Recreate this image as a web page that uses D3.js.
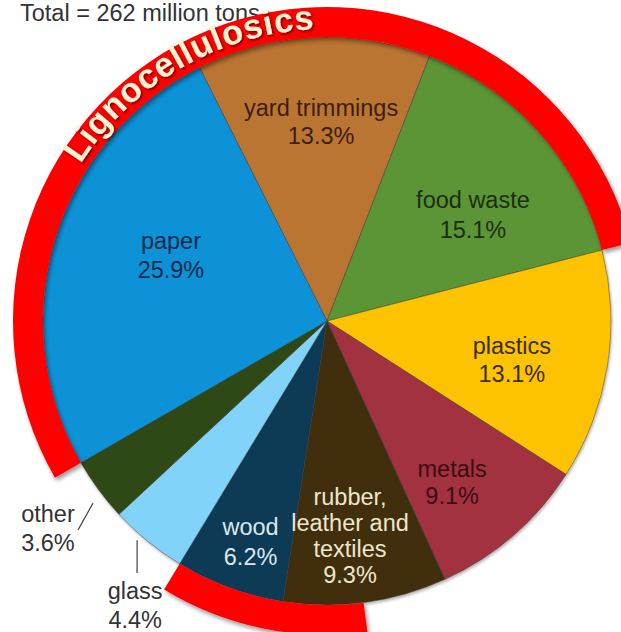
<!DOCTYPE html>
<html><head><meta charset="utf-8">
<script src="https://cdn.jsdelivr.net/npm/d3@7"></script>
<style>html,body{margin:0;padding:0;background:#fff;} svg{display:block;}</style>
</head><body>
<script>
// ---- data ----
const categories = ["yard trimmings","food waste","plastics","metals","rubber, leather and textiles","wood","glass","other","paper"];
const values = [13.3, 15.1, 13.1, 9.1, 9.3, 6.2, 4.4, 3.6, 25.9];
const labelLines = [["yard trimmings","13.3%"],["food waste","15.1%"],["plastics","13.1%"],["metals","9.1%"],["rubber,","leather and","textiles","9.3%"],["wood","6.2%"],["glass","4.4%"],["other","3.6%"],["paper","25.9%"]];
const titleText = "Total = 262 million tons";
const bandText = "Lignocellulosics";

// ---- styles / layout ----
const colors = ["#bb7431","#5c9535","#fdc300","#a33340","#3f2e0c","#0b3a57","#82d3f9","#2d4818","#0a92d8"];
const textColors = ["#3b1e0c","#1b2e10","#3b2c10","#3a0c14","#efe6cc","#dce8ee","#333333","#333333","#0a2a4a"];
// label block centers in polar coords (radius px, angle deg clockwise from 12 o'clock)
const labelPolar = [[198.6,-1.7],[180.4,54.0],[189,102.05],[204.6,142.3],[216.7,173.9],[234,199.06],[343,214.0],[348,233.3],[169.4,-67.1]];
const lineHeights = [28,29.5,28,27,26,29.5,29.5,29,29];
const leaders = {6:[[290,220.9],[315.6,217.0]], 7:[[296.5,232.1],[325,230.0]]};

const W = 621, H = 632, cx = 327, cy = 321, R = 284;
const startDeg = -26.7;
const bandInner = 284, bandOuter = 314;
const bottomBandStartDeg = 172.6;
const rad = d => d * Math.PI / 180;
const polar = (r, a) => [cx + r * Math.sin(rad(a)), cy - r * Math.cos(rad(a))];
const FONT = "'Liberation Sans', Arial, sans-serif";

const svg = d3.select("body").append("svg").attr("width", W).attr("height", H);
const defs = svg.append("defs");
const f1 = defs.append("filter").attr("id","sh").attr("x","-20%").attr("y","-20%").attr("width","140%").attr("height","140%");
f1.append("feDropShadow").attr("dx",2).attr("dy",3).attr("stdDeviation",2).attr("flood-color","#000").attr("flood-opacity",0.4);
const f2 = defs.append("filter").attr("id","tsh").attr("x","-20%").attr("y","-20%").attr("width","140%").attr("height","140%");
f2.append("feDropShadow").attr("dx",1.5).attr("dy",1.5).attr("stdDeviation",1).attr("flood-color","#000").attr("flood-opacity",0.55);
const f3 = defs.append("filter").attr("id","psh").attr("x","-20%").attr("y","-20%").attr("width","140%").attr("height","140%");
f3.append("feDropShadow").attr("dx",1).attr("dy",2).attr("stdDeviation",1.5).attr("flood-color","#000").attr("flood-opacity",0.3);

// title
svg.append("text").attr("x", 20).attr("y", 21)
  .attr("font-family", FONT).attr("font-size", 23.5)
  .attr("fill", "#333").text(titleText);

// pie
const pie = d3.pie().sort(null).value(d => d)
  .startAngle(rad(startDeg)).endAngle(rad(startDeg) + 2 * Math.PI);
const arcs = pie(values);
const arcGen = d3.arc().innerRadius(0).outerRadius(R);
const g = svg.append("g").attr("transform", `translate(${cx},${cy})`);
g.append("g").attr("filter","url(#psh)").selectAll("path").data(arcs).join("path")
  .attr("d", arcGen).attr("fill", (d,i) => colors[i])
  .attr("stroke", "#3a3a3a").attr("stroke-opacity", 0.6).attr("stroke-width", 0.8);

// red bands
const band = d3.arc().innerRadius(bandInner).outerRadius(bandOuter);
const paperArc = arcs[8], foodArc = arcs[1], woodArc = arcs[5];
const topBand = {startAngle: paperArc.startAngle - 2 * Math.PI, endAngle: foodArc.endAngle};
const botBand = {startAngle: rad(bottomBandStartDeg), endAngle: woodArc.endAngle};
g.append("g").attr("filter","url(#sh)").selectAll("path").data([topBand, botBand]).join("path")
  .attr("d", band).attr("fill", "#ff0000");

// curved band text
const tr = 292, a0 = rad(-62), a1 = rad(2);
const pathD = `M ${tr*Math.sin(a0)} ${-tr*Math.cos(a0)} A ${tr} ${tr} 0 0 1 ${tr*Math.sin(a1)} ${-tr*Math.cos(a1)}`;
defs.append("path").attr("id","bandPath").attr("d", pathD);
g.append("text").attr("filter","url(#tsh)")
  .attr("font-family", FONT).attr("font-weight","bold")
  .attr("font-size", 34.5).attr("fill", "#fdf3d3")
  .append("textPath").attr("href","#bandPath").attr("startOffset","50%")
  .attr("text-anchor","middle").attr("textLength", 280).attr("lengthAdjust","spacing")
  .text(bandText);

// labels
arcs.forEach((d, i) => {
  const [x, y] = polar(labelPolar[i][0], labelPolar[i][1]);
  const lines = labelLines[i], lh = lineHeights[i];
  const b1 = y + 8 - (lines.length - 1) * lh / 2;
  const t = svg.append("text").attr("text-anchor","middle")
    .attr("font-family", FONT).attr("font-size", 23.5)
    .attr("fill", textColors[i]);
  lines.forEach((s, k) => t.append("tspan").attr("x", x).attr("y", b1 + k * lh).text(s));
  if (leaders[i]) {
    const p = leaders[i].map(q => polar(q[0], q[1]));
    svg.append("line").attr("x1", p[0][0]).attr("y1", p[0][1]).attr("x2", p[1][0]).attr("y2", p[1][1])
      .attr("stroke", "#444").attr("stroke-width", 1.2);
  }
});
</script>
</body></html>
